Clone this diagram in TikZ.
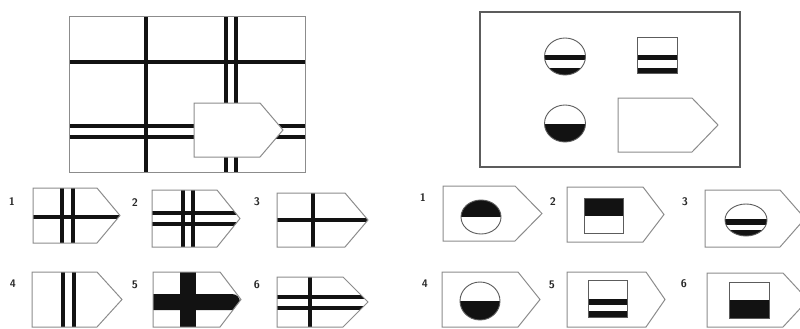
\documentclass[tikz,border=0pt]{standalone}
\usepackage{tikz}
\usetikzlibrary{positioning}
\definecolor{framegray}{HTML}{8C8C8C}
\definecolor{panelgray}{HTML}{5C5C5C}
\definecolor{barblack}{HTML}{121212}
\definecolor{numgray}{HTML}{262626}
\tikzset{
    grid frame/.style={draw=framegray, line width=1pt},
    panel frame/.style={draw=panelgray, line width=1.3pt},
    tag/.style={draw=framegray, line width=1pt, fill=white},
    main bar/.style={draw=barblack, line width=3.8pt},
    option bar/.style={draw=barblack, line width=3.2pt},
    solid part/.style={fill=barblack},
    figure outline/.style={draw=panelgray, line width=0.9pt},
    option num/.style={font=\fontsize{11}{11}\selectfont\sffamily\bfseries,
        text=numgray, inner sep=0pt},
}
% left, top, flat end, tip, bottom
\newcommand{\tagshape}[5]{(#1,#2) -- (#3,#2) -- (#4,{(#2+#5)/2}) -- (#3,#5) -- (#1,#5) -- cycle}

\begin{document}
\begin{tikzpicture}[x=1pt, y=-1pt]
    \useasboundingbox (0,0) rectangle (800,329);
    \clip (0,0) rectangle (800,329);

    % Left problem: grid of bars with a tag on top
    \draw[main bar] (146,17) -- (146,172);
    \draw[main bar] (226,17) -- (226,172);
    \draw[main bar] (236,17) -- (236,172);
    \draw[main bar] (69,62) -- (305,62);
    \draw[main bar] (69,126) -- (305,126);
    \draw[main bar] (69,137) -- (305,137);
    \filldraw[tag] \tagshape{194}{103}{260}{283}{157};
    \draw[grid frame] (69,17) rectangle (305,172);

    % Left answers
    \node[option num] (lnum1) at (12,202) {1};
    \node[option num] (lnum2) at (135,203) {2};
    \node[option num] (lnum3) at (257,202) {3};
    \node[option num] (lnum4) at (13,284) {4};
    \node[option num] (lnum5) at (135,285) {5};
    \node[option num] (lnum6) at (257,285) {6};

    \begin{scope}
        \clip \tagshape{33}{188}{97}{120}{243};
        \draw[option bar] (62,188) -- (62,243);
        \draw[option bar] (73,188) -- (73,243);
        \draw[option bar] (33,217) -- (120,217);
    \end{scope}
    \draw[tag, fill=none] \tagshape{33}{188}{97}{120}{243};

    \begin{scope}
        \clip \tagshape{152}{190}{217}{240}{247};
        \draw[option bar] (183,190) -- (183,247);
        \draw[option bar] (193,190) -- (193,247);
        \draw[option bar] (152,213) -- (240,213);
        \draw[option bar] (152,224) -- (240,224);
    \end{scope}
    \draw[tag, fill=none] \tagshape{152}{190}{217}{240}{247};

    \begin{scope}
        \clip \tagshape{277}{193}{345}{368}{247};
        \draw[option bar] (313,193) -- (313,247);
        \draw[option bar] (277,220) -- (368,220);
    \end{scope}
    \draw[tag, fill=none] \tagshape{277}{193}{345}{368}{247};

    \begin{scope}
        \clip \tagshape{32}{272}{97}{122}{327};
        \draw[option bar] (63,272) -- (63,327);
        \draw[option bar] (74,272) -- (74,327);
    \end{scope}
    \draw[tag, fill=none] \tagshape{32}{272}{97}{122}{327};

    \begin{scope}
        \clip \tagshape{153}{272}{220}{241}{327};
        \fill[solid part] (180,272) rectangle (196,327);
        \fill[solid part] (153,294) -- (232,294) arc (-90:90:8) -- (153,310) -- cycle;
    \end{scope}
    \draw[tag, fill=none] \tagshape{153}{272}{220}{241}{327};

    \begin{scope}
        \clip \tagshape{277}{277}{343}{368}{327};
        \draw[option bar] (310,277) -- (310,327);
        \draw[option bar] (277,297) -- (368,297);
        \draw[option bar] (277,308) -- (368,308);
    \end{scope}
    \draw[tag, fill=none] \tagshape{277}{277}{343}{368}{327};

    % Right problem: circles and squares
    \draw[panel frame] (480,12) rectangle (740,167);

    \coordinate (circA) at (565,56.5);
    \begin{scope}
        \clip (circA) ellipse (20.5 and 18.5);
        \fill[solid part] (544,55.5) rectangle (586,60);
        \fill[solid part] (544,68) rectangle (586,76);
    \end{scope}
    \draw[figure outline] (circA) ellipse (20.5 and 18.5);

    \fill[solid part] (637,55.5) rectangle (677,60);
    \fill[solid part] (637,68) rectangle (677,73);
    \draw[figure outline] (637,37) rectangle (677,73);

    \coordinate (circB) at (565,123.5);
    \begin{scope}
        \clip (circB) ellipse (20.5 and 18.5);
        \fill[solid part] (544,123.5) rectangle (586,143);
    \end{scope}
    \draw[figure outline] (circB) ellipse (20.5 and 18.5);

    \draw[tag] \tagshape{618}{98}{692}{718}{152};

    % Right answers
    \node[option num] (rnum1) at (423,198) {1};
    \node[option num] (rnum2) at (553,202) {2};
    \node[option num] (rnum3) at (685,202) {3};
    \node[option num] (rnum4) at (425,284) {4};
    \node[option num] (rnum5) at (552,285) {5};
    \node[option num] (rnum6) at (684,284) {6};

    \draw[tag] \tagshape{443}{186}{515}{542}{241};
    \coordinate (opt1) at (481,217);
    \begin{scope}
        \clip (opt1) ellipse (20 and 17);
        \fill[solid part] (460,199) rectangle (502,217);
    \end{scope}
    \draw[figure outline] (opt1) ellipse (20 and 17);

    \draw[tag] \tagshape{567}{187}{643}{664}{242};
    \fill[solid part] (584,198) rectangle (623,216);
    \draw[figure outline] (584,198) rectangle (623,233);

    \draw[tag] \tagshape{705}{190}{780}{805}{247};
    \coordinate (opt3) at (746,220);
    \begin{scope}
        \clip (opt3) ellipse (21 and 16);
        \fill[solid part] (724,219) rectangle (768,224.5);
        \fill[solid part] (724,229.5) rectangle (768,237);
    \end{scope}
    \draw[figure outline] (opt3) ellipse (21 and 16);

    \draw[tag] \tagshape{442}{272}{518}{540}{327};
    \coordinate (opt4) at (480,301);
    \begin{scope}
        \clip (opt4) ellipse (20 and 19);
        \fill[solid part] (459,301) rectangle (501,321);
    \end{scope}
    \draw[figure outline] (opt4) ellipse (20 and 19);

    \draw[tag] \tagshape{567}{272}{646}{665}{327};
    \fill[solid part] (588,299) rectangle (627,305);
    \fill[solid part] (588,311) rectangle (627,317);
    \draw[figure outline] (588,280) rectangle (627,317);

    \draw[tag] \tagshape{707}{273}{783}{808}{327};
    \fill[solid part] (729,300) rectangle (769,318);
    \draw[figure outline] (729,282) rectangle (769,318);

\end{tikzpicture}
\end{document}
